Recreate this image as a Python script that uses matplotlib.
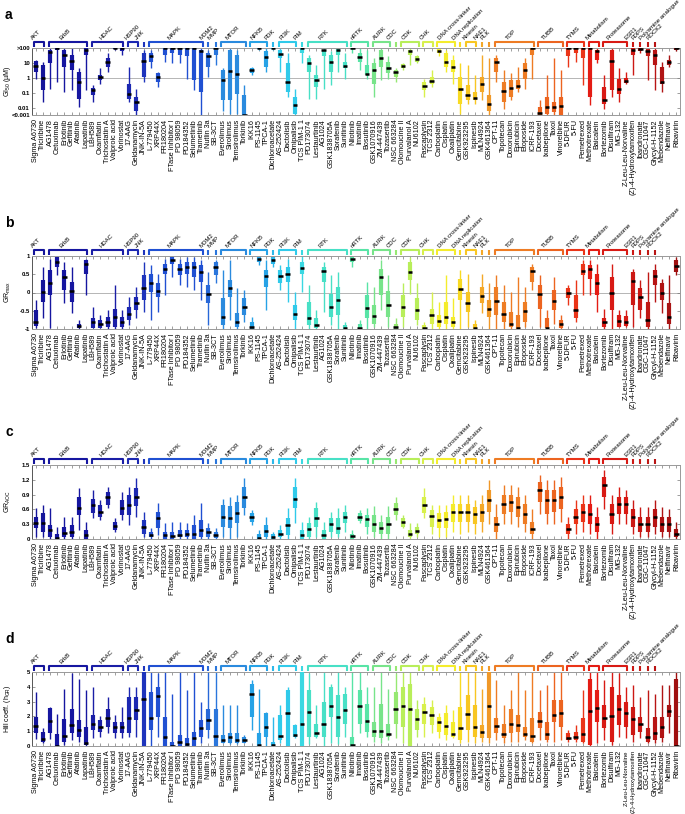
import matplotlib
matplotlib.use("Agg")
import matplotlib.pyplot as plt
from matplotlib.path import Path
from matplotlib.patches import PathPatch
from matplotlib.transforms import blended_transform_factory
import numpy as np

plt.rcParams['font.family'] = ['Liberation Sans', 'DejaVu Sans']
plt.rcParams['mathtext.default'] = 'regular'

drugs = ["Sigma A6730", "Triciribine", "AG1478", "Cetuximab", "Erlotinib", "Gefitinib", "Afatinib", "Lapatinib",
         "LBH589", "Oxamflatin", "Trichostatin A", "Valproic acid", "Vorinostat", "17-AAG", "Geldanamycin",
         "JNK-IN-5A", "L-779450", "XRP44X", "FR180204", "FTase Inhibitor I", "PD 98059", "PD184352",
         "Selumetinib", "Trametinib", "Nutlin 3a", "SB-3CT", "Everolimus", "Sirolimus", "Temsirolimus",
         "Torkinib", "IKK16", "PS-1145", "TPCA-1", "Dichloroacetate", "AS-252424", "Dactolisib", "Omipalisib",
         "TCS PIM-1 1", "PD173074", "Lestaurtinib", "AG1024", "GSK1838705A", "Sorafenib", "Sunitinib",
         "Nilotinib", "Imatinib", "Bosutinib", "GSK1070916", "ZM-447439", "Tozasertib", "NSC 663284",
         "Olomoucine II", "Purvalanol A", "NU6102", "Fascaplysin", "TCS 2312", "Carboplatin", "Cisplatin",
         "Oxaliplatin", "Gemcitabine", "GSK923295", "Ispinesib", "MLN4924", "GSK461364", "CPT-11", "Topotecan",
         "Doxorubicin", "Epirubicin", "Etoposide", "ICRF-193", "Docetaxel", "Ixabepilone", "Taxol",
         "Vinorelbine", "5-DFUR", "5-FU", "Pemetrexed", "Methotrexate", "Baicalein", "Bortezomib",
         "Disulfiram", "MG-132", "Z-Leu-Leu-Norvaline", "(Z)-4-Hydroxytamoxifen", "Ibandronate", "CGC-11047",
         "Glycyl-H-1152", "Mebendazole", "Nelfinavir", "Ribavirin"]

group_names = ["AKT", "ErbB", "HDAC", "HSP90", "JNK", "MAPK", "MDM2", "MMP", "MTOR", "NFKB", "PDK", "PI3K",
               "PIM", "RTK", "nRTK", "AURK", "CDC", "CDK", "CHK", "DNA cross-linker", "DNA replication",
               "Kinesin", "NAE1", "PLK", "TOP", "TUBB", "TYMS", "Metabolism", "Proteasome", "ESR1", "FDPS",
               "Polyamine analogue", "ROCK2", "", "", ""]
group_sizes = [2, 6, 5, 2, 1, 8, 1, 1, 4, 3, 1, 3, 1, 6, 3, 3, 1, 3, 2, 3, 1, 2, 1, 1, 6, 4, 3, 2, 4, 1, 1, 1, 1, 1, 1, 1]
group_colors = ["#14149a", "#1616a0", "#1a1ea6", "#1c28b2", "#1e34bc", "#2050d2", "#2868d8", "#2a76dc",
                "#2a8ade", "#26a2e6", "#2cb8ea", "#30caea", "#3ad8e2", "#48e0c6", "#58e4a6", "#78e48a",
                "#96e872", "#b8ee5a", "#d8f04c", "#f4ec2c", "#f8da22", "#f8c622", "#f4a828", "#f09828",
                "#ee7c24", "#ec6420", "#ea3418", "#e41c14", "#d81a14", "#cc1814", "#c81814", "#c01814",
                "#b81414", "#b01414", "#a81414", "#a01010"]

# ---- panel a: log10 GI50 (uM) ----
gi50_lo = [-0.05, -1.64, -0.73, -0.27, -0.95, -0.84, -1.98, -0.84, -1.64, -0.39, 0.41, 1.89, 1.55, -1.64, -2.5,
           -0.27, 0.64, -0.61, 1.09, 0.98, 0.98, -0.05, -0.84, -2.5, 0.07, 0.86, -2.2, -2.43, -2.43, -2.5,
           0.18, 1.89, 0.41, 1.89, 0.41, -1.3, -2.5, 0.98, -1.41, -1.41, -0.73, -0.5, 0.41, -0.05, 1.66, 0.52,
           -0.05, -1.3, -0.16, -0.05, -0.27, 0.52, 0.86, 0.98, -1.3, -0.61, 1.43, 0.41, -0.39, -2.43, -1.75,
           -1.75, -1.52, -2.5, -0.27, -2.09, -1.52, -0.95, -0.73, -0.05, -2.5, -2.5, -2.5, -2.5, 0.75, 1.09,
           -0.5, -1.86, 0.98, -2.09, -1.3, -1.64, -0.39, 0.18, 1.66, -0.16, -0.84, -0.95, 0.75, 1.77]
gi50_q1 = [0.41, -0.84, 0.98, 1.89, 0.75, 0.52, -1.41, 1.55, -1.18, -0.16, 0.75, 1.95, 1.77, -1.41, -2.2,
           0.07, 1.09, -0.27, 1.55, 1.66, 1.55, 1.43, -0.16, -0.95, 0.75, 1.55, -1.52, -1.52, -1.07, -2.5,
           0.3, 1.95, 0.75, 1.95, 1.32, -0.95, -2.43, 1.66, 0.41, -0.61, 1.43, 0.41, 1.55, 0.64, 1.9, 1.09,
           0.18, -0.39, 0.75, 0.3, 0.02, 0.64, 1.55, 1.09, -0.84, -0.39, 1.66, 0.75, 0.41, -1.75, -1.52,
           -1.52, -0.95, -2.2, 0.41, -1.64, -1.3, -0.73, -0.05, 1.55, -2.5, -2.43, -2.32, -2.5, 1.43, 1.66,
           1.32, -1.3, 1.2, -1.75, -0.84, -1.07, -0.32, 1.55, 1.77, 1.43, 0.86, -0.39, 0.86, 1.89]
gi50_med = [0.82, 0.0, 1.73, 2.0, 1.55, 1.14, -0.27, 1.89, -0.84, 0.02, 1.09, 2.0, 2.0, -1.11, -1.64,
            1.16, 1.48, 0.07, 2.0, 2.0, 2.0, 2.0, 2.0, 1.77, 1.43, 2.0, -0.16, 0.45, 0.25, -2.5,
            0.5, 2.0, 1.39, 2.0, 1.59, -0.27, -1.82, 2.0, 0.98, -0.16, 1.84, 1.05, 1.84, 0.82, 2.0, 1.39,
            0.27, 0.52, 1.32, 0.68, 0.36, 0.8, 1.77, 1.27, -0.57, -0.2, 1.77, 1.09, 0.75, -0.73, -1.18,
            -1.34, -0.45, -1.75, 1.07, -0.89, -0.66, -0.52, 0.5, 2.0, -2.36, -1.98, -1.98, -1.91, 2.0, 2.0,
            2.0, 2.0, 1.77, -1.48, 1.14, -0.73, -0.2, 1.84, 1.93, 1.77, 1.55, -0.27, 1.07, 2.0]
gi50_q3 = [1.14, 0.86, 1.89, 2.0, 1.89, 1.55, 0.41, 2.0, -0.66, 0.18, 1.32, 2.0, 2.0, -0.39, -1.3,
           1.66, 1.66, 0.3, 2.0, 2.0, 2.0, 2.0, 2.0, 1.89, 1.66, 2.0, 0.52, 1.89, 1.55, -1.18,
           0.64, 2.0, 1.77, 2.0, 1.89, 0.98, -1.3, 2.0, 1.32, 0.18, 1.89, 1.55, 1.93, 1.09, 2.0, 1.66,
           0.86, 0.98, 1.89, 1.09, 0.52, 0.91, 1.89, 1.43, -0.27, 0.07, 1.93, 1.66, 1.2, 0.07, -0.5,
           -0.95, 0.07, -1.18, 1.32, -0.27, -0.16, -0.16, 0.98, 2.0, -1.98, -1.3, -1.64, -1.3, 2.0, 2.0,
           2.0, 2.0, 1.89, -0.61, 1.89, -0.05, 0.0, 2.0, 2.0, 1.93, 1.89, 0.75, 1.2, 2.0]
gi50_hi = [1.2, 1.09, 2.0, 2.0, 2.0, 2.0, 0.64, 2.0, -0.5, 0.64, 1.66, 2.0, 2.0, 0.75, -0.73,
           1.89, 1.89, 0.41, 2.0, 2.0, 2.0, 2.0, 2.0, 2.0, 1.89, 2.0, 0.64, 2.0, 1.89, -0.5,
           0.75, 2.0, 2.0, 2.0, 2.0, 1.66, -0.73, 2.0, 1.55, 0.86, 2.0, 1.77, 2.0, 1.66, 2.0, 2.0,
           1.89, 1.32, 2.0, 1.43, 0.64, 0.98, 2.0, 1.55, -0.05, 0.52, 2.0, 1.89, 1.55, 0.98, 0.86,
           0.18, 1.55, 1.32, 1.55, 0.52, 0.3, 0.75, 1.32, 2.0, -1.52, 0.18, 1.32, 0.52, 2.0, 2.0,
           2.0, 2.0, 2.0, 0.18, 2.0, 0.64, 0.41, 2.0, 2.0, 2.0, 2.0, 1.09, 1.55, 2.0]

# ---- panel b: GRmax ----
grmax_lo = [-0.98, -0.71, -0.98, 0.47, -0.3, -0.57, -1.0, -0.07, -0.98, -0.98, -1.0, -1.0, -1.0, -0.89, -0.71,
            -0.53, -0.75, -0.53, -0.07, 0.43, 0.2, 0.15, 0.06, -0.21, -0.89, 0.25, -1.0, -0.75, -1.0, -0.8,
            -1.0, 0.75, -0.48, 0.7, 0.06, -0.25, -1.0, 0.02, -1.0, -1.0, -0.53, -0.89, -1.0, -1.0, 0.7, -1.0,
            -1.0, -0.94, -0.48, -0.94, -1.0, -0.94, -0.03, -0.89, -1.0, -1.0, -1.0, -1.0, -1.0, -1.0, -0.94,
            -1.0, -0.57, -1.0, -1.0, -1.0, -1.0, -1.0, -0.94, 0.06, -0.94, -1.0, -0.85, -1.0, -0.35, -0.8,
            -0.07, -0.07, -0.53, -1.0, -1.0, -0.94, -0.94, -0.94, -0.71, -1.0, -0.25, -0.57, -1.0, 0.47]
grmax_q1 = [-0.91, -0.25, -0.07, 0.7, 0.06, -0.25, -0.98, 0.52, -0.96, -0.96, -0.94, -0.94, -0.94, -0.75, -0.48,
            -0.21, 0.02, -0.12, 0.52, 0.79, 0.47, 0.52, 0.43, 0.29, -0.3, 0.47, -0.89, -0.12, -0.94, -0.62,
            -1.0, 0.84, 0.15, 0.79, 0.25, 0.29, -0.75, 0.52, -0.89, -0.96, 0.29, -0.66, -0.62, -1.0, 0.84, -1.0,
            -0.71, -0.85, -0.07, -0.66, -1.0, -0.66, 0.34, -0.75, -1.0, -0.85, -0.94, -0.85, -0.94, -0.21, -0.53,
            -1.0, -0.3, -0.66, -0.62, -0.8, -0.94, -1.0, -0.8, 0.29, -0.44, -0.96, -0.48, -0.96, -0.16, -0.71,
            0.47, 0.38, -0.07, -0.94, -0.48, -0.94, -0.92, -0.35, -0.48, -0.94, 0.2, -0.21, -0.85, 0.56]
grmax_med = [-0.82, 0.02, 0.27, 0.84, 0.43, 0.05, -0.92, 0.79, -0.82, -0.87, -0.82, -0.68, -0.82, -0.59, -0.3,
             0.13, 0.27, 0.05, 0.64, 0.9, 0.64, 0.7, 0.7, 0.56, -0.05, 0.7, -0.68, 0.11, -0.82, -0.39,
             -0.94, 0.93, 0.45, 0.9, 0.45, 0.5, -0.59, 0.68, -0.69, -0.89, 0.58, -0.39, -0.21, -0.96, 0.93, -0.96,
             -0.42, -0.65, 0.43, -0.35, -0.94, -0.39, 0.55, -0.49, -0.97, -0.62, -0.78, -0.66, -0.82, 0.09, -0.28,
             -0.96, -0.09, -0.44, -0.23, -0.59, -0.86, -0.96, -0.5, 0.58, -0.05, -0.96, -0.23, -0.87, -0.01, -0.48,
             0.58, 0.65, 0.27, -0.82, 0.0, -0.78, -0.8, 0.31, -0.12, -0.75, 0.45, 0.0, -0.66, 0.73]
grmax_q3 = [-0.48, 0.34, 0.61, 0.97, 0.61, 0.29, -0.85, 0.88, -0.69, -0.75, -0.66, -0.44, -0.66, -0.39, -0.12,
            0.47, 0.52, 0.25, 0.79, 0.97, 0.79, 0.84, 0.84, 0.75, 0.2, 0.84, -0.16, 0.34, -0.57, -0.16,
            -0.8, 0.97, 0.61, 0.97, 0.61, 0.7, -0.34, 0.84, -0.25, -0.71, 0.7, -0.03, 0.15, -0.89, 0.97, -0.85,
            -0.07, -0.35, 0.65, 0.05, -0.85, -0.07, 0.84, -0.16, -0.9, -0.44, -0.62, -0.25, -0.66, 0.38, 0.02,
            -0.85, 0.15, -0.21, 0.15, -0.25, -0.53, -0.62, -0.25, 0.7, 0.2, -0.71, 0.06, -0.75, 0.11, -0.07,
            0.79, 0.75, 0.52, -0.71, 0.43, -0.62, -0.65, 0.56, 0.11, -0.25, 0.61, 0.25, -0.3, 0.88]
grmax_hi = [-0.21, 0.7, 0.93, 1.0, 0.84, 0.7, -0.75, 0.93, -0.39, -0.62, -0.48, 0.2, -0.48, -0.12, 0.15,
            0.84, 0.75, 0.52, 0.93, 1.0, 0.93, 0.97, 0.97, 0.88, 0.56, 0.88, 0.61, 0.88, 0.11, 0.06,
            -0.66, 1.0, 0.88, 1.0, 0.75, 0.93, 0.02, 1.0, 0.2, -0.48, 0.84, 0.47, 0.56, -0.8, 1.0, -0.75,
            0.29, 0.15, 0.88, 0.47, -0.71, 0.25, 0.97, 0.25, -0.8, 0.02, -0.25, 0.47, -0.16, 0.61, 0.52,
            -0.75, 0.52, 0.25, 0.47, 0.2, 0.02, 0.43, 0.15, 0.79, 0.47, -0.48, 0.43, -0.62, 0.2, 0.34,
            0.88, 0.88, 0.79, -0.44, 0.79, -0.48, -0.48, 0.65, 0.34, 0.56, 0.79, 0.38, 0.47, 0.97]

# ---- panel c: GR AOC ----
aoc_lo = [0.05, 0.05, 0.0, 0.0, 0.0, 0.0, 0.18, 0.0, 0.42, 0.39, 0.62, 0.15, 0.39, 0.28, 0.45,
          0.05, 0.01, 0.08, 0.0, 0.0, 0.01, 0.0, 0.0, 0.0, 0.01, 0.01, 0.05, 0.01, 0.05, 0.49,
          0.28, 0.0, 0.0, 0.0, 0.01, 0.0, 0.32, 0.0, 0.0, 0.05, 0.0, 0.05, 0.05, 0.15, 0.0, 0.32,
          0.11, 0.05, 0.01, 0.01, 0.39, 0.22, 0.01, 0.05, 0.42, 0.11, 0.05, 0.05,
          0.15, 0.1, 0.15, 0.1, 0.15, 0.3, 0.0, 0.3, 0.3, 0.25, 0.15, 0.0, 0.5, 0.3, 0.3, 0.35,
          0.0, 0.1, 0.15, 0.1, 0.0, 0.6, 0.1, 0.3, 0.3, 0.1, 0.05, 0.05, 0.1, 0.05, 0.05, 0.0]
aoc_q1 = [0.22, 0.15, 0.05, 0.0, 0.05, 0.05, 0.49, 0.0, 0.52, 0.45, 0.69, 0.18, 0.49, 0.49, 0.66,
          0.11, 0.05, 0.22, 0.01, 0.0, 0.05, 0.05, 0.01, 0.05, 0.05, 0.03, 0.25, 0.22, 0.32, 0.62,
          0.35, 0.0, 0.05, 0.0, 0.05, 0.08, 0.62, 0.01, 0.05, 0.25, 0.01, 0.15, 0.11, 0.32, 0.01, 0.37,
          0.25, 0.15, 0.11, 0.11, 0.49, 0.25, 0.05, 0.11, 0.52, 0.25, 0.22, 0.22,
          0.35, 0.35, 0.35, 0.3, 0.35, 0.55, 0.15, 0.5, 0.55, 0.45, 0.3, 0.1, 0.75, 0.5, 0.55, 0.6,
          0.1, 0.3, 0.35, 0.3, 0.15, 0.85, 0.3, 0.5, 0.5, 0.25, 0.15, 0.15, 0.25, 0.15, 0.15, 0.05]
aoc_med = [0.32, 0.33, 0.18, 0.03, 0.13, 0.15, 0.62, 0.08, 0.69, 0.55, 0.86, 0.27, 0.62, 0.69, 0.86,
           0.25, 0.09, 0.42, 0.08, 0.07, 0.09, 0.1, 0.1, 0.18, 0.15, 0.08, 0.45, 0.43, 0.52, 0.86,
           0.44, 0.03, 0.17, 0.05, 0.11, 0.28, 0.82, 0.08, 0.2, 0.43, 0.08, 0.3, 0.23, 0.45, 0.06, 0.45,
           0.4, 0.3, 0.22, 0.3, 0.6, 0.34, 0.1, 0.17, 0.69, 0.47, 0.39, 0.4,
           0.55, 0.55, 0.55, 0.5, 0.55, 0.8, 0.3, 0.7, 0.75, 0.65, 0.5, 0.2, 1.0, 0.8, 0.8, 0.85,
           0.2, 0.45, 0.55, 0.5, 0.3, 1.1, 0.5, 0.7, 0.7, 0.45, 0.3, 0.3, 0.45, 0.3, 0.3, 0.1]
aoc_q3 = [0.45, 0.52, 0.28, 0.11, 0.25, 0.28, 0.86, 0.18, 0.82, 0.69, 0.96, 0.35, 0.79, 0.89, 1.03,
          0.39, 0.15, 0.55, 0.15, 0.15, 0.18, 0.18, 0.28, 0.39, 0.22, 0.15, 0.69, 0.66, 0.76, 1.06,
          0.52, 0.1, 0.28, 0.1, 0.18, 0.42, 1.06, 0.18, 0.32, 0.62, 0.18, 0.42, 0.42, 0.55, 0.11, 0.52,
          0.49, 0.49, 0.35, 0.45, 0.72, 0.42, 0.18, 0.25, 0.86, 0.59, 0.52, 0.55,
          0.7, 0.7, 0.7, 0.65, 0.7, 1.0, 0.45, 0.9, 0.9, 0.85, 0.7, 0.35, 1.15, 1.0, 1.0, 1.05,
          0.3, 0.6, 0.7, 0.7, 0.45, 1.25, 0.7, 0.85, 0.85, 0.6, 0.45, 0.45, 0.6, 0.45, 0.45, 0.2]
aoc_hi = [0.62, 0.69, 0.62, 0.25, 0.45, 0.45, 1.03, 0.35, 0.99, 0.79, 1.06, 0.42, 0.96, 1.06, 1.23,
          0.55, 0.22, 0.72, 0.32, 0.35, 0.35, 0.32, 0.49, 0.72, 0.32, 0.22, 0.82, 0.86, 0.89, 1.23,
          0.59, 0.18, 0.45, 0.15, 0.28, 0.62, 1.23, 0.35, 0.45, 0.76, 0.35, 0.55, 0.62, 0.69, 0.18, 0.59,
          0.62, 0.66, 0.49, 0.66, 0.86, 0.49, 0.32, 0.32, 1.03, 0.69, 0.69, 0.69,
          0.9, 0.9, 0.9, 0.8, 0.9, 1.2, 0.7, 1.1, 1.1, 1.05, 0.9, 0.6, 1.3, 1.2, 1.2, 1.25,
          0.45, 0.8, 0.9, 0.9, 0.65, 1.4, 0.9, 1.05, 1.0, 0.8, 0.65, 0.65, 0.8, 0.65, 0.6, 0.35]

# ---- panel d: Hill coefficient ----
hill_lo = [0.5, 0.18, 0.5, 0.0, 0.07, 0.4, 0.3, 0.0, 0.52, 0.63, 0.85, 0.52, 0.52, 0.63, 0.63,
           0.0, 0.0, 0.63, 0.0, 0.0, 0.0, 0.0, 0.0, 0.18, 0.52, 0.0, 0.18, 0.13, 0.13, 0.18,
           1.08, 0.0, 0.0, 0.0, 0.22, 0.0, 0.52, 0.0, 0.13, 0.52, 0.0, 0.18, 0.13, 0.63, 0.0, 0.85,
           0.63, 0.29, 0.18, 0.4, 0.52, 0.18, 0.0, 0.63, 0.63, 0.85, 0.52, 0.4,
           0.52, 0.18, 0.29, 0.18, 0.29, 0.18, 0.4, 0.18, 0.29, 0.29, 0.4, 0.18, 0.4, 0.29, 0.29, 0.4,
           0.29, 0.29, 0.18, 0.0, 0.18, 0.4, 0.07, 0.63, 0.52, 0.29, 0.52, 0.18, 0.18, 0.29, 0.85, 0.0]
hill_q1 = [0.85, 0.3, 0.9, 0.0, 0.3, 0.85, 0.63, 0.07, 1.08, 0.96, 1.3, 0.85, 0.85, 0.9, 1.75,
           0.0, 1.08, 1.97, 0.0, 0.0, 0.0, 0.0, 0.0, 0.63, 1.08, 0.0, 0.18, 0.18, 0.18, 0.22,
           1.97, 0.0, 0.63, 0.0, 0.4, 0.0, 0.63, 0.0, 0.63, 0.63, 0.63, 1.97, 0.63, 1.52, 0.0, 1.52,
           0.96, 0.63, 0.52, 0.63, 1.52, 1.3, 0.0, 1.08, 1.52, 1.41, 0.96, 0.74,
           0.63, 0.4, 1.08, 0.63, 0.52, 0.52, 0.85, 0.52, 0.85, 0.96, 0.63, 0.29, 1.19, 0.4, 1.64, 1.3,
           0.4, 0.4, 0.29, 0.07, 1.64, 1.19, 0.29, 1.41, 1.3, 0.74, 0.96, 0.29, 0.4, 0.52, 1.97, 0.0]
hill_med = [1.35, 0.5, 1.7, 0.0, 0.7, 1.41, 1.08, 0.22, 1.52, 1.26, 1.86, 1.3, 1.3, 1.86, 2.42,
            3.2, 1.86, 3.36, 0.63, 0.0, 0.29, 0.13, 0.52, 1.19, 1.75, 0.7, 0.4, 0.58, 0.4, 0.4,
            3.48, 0.07, 1.26, 0.07, 0.7, 2.24, 0.76, 1.52, 2.29, 0.85, 1.46, 2.69, 1.97, 2.42, 0.07, 2.71,
            1.68, 1.01, 1.03, 0.81, 2.53, 2.69, 2.51, 1.82, 2.31, 2.09, 1.64, 1.35,
            0.78, 1.23, 2.15, 1.3, 0.94, 2.71, 1.35, 0.81, 1.48, 1.41, 0.78, 0.7, 1.68, 0.78, 2.09, 2.26,
            0.52, 0.63, 0.78, 2.38, 2.6, 1.86, 2.02, 2.47, 2.2, 1.84, 1.48, 0.58, 0.9, 1.26, 2.38, 0.02]
hill_q3 = [1.97, 0.96, 2.6, 0.8, 1.85, 2.53, 1.75, 1.3, 2.08, 1.75, 2.53, 1.64, 1.64, 3.32, 3.32,
           5.0, 3.65, 3.99, 1.97, 0.29, 0.74, 0.52, 0.96, 1.75, 2.53, 2.53, 0.74, 0.85, 0.85, 0.63,
           4.22, 0.85, 2.24, 0.3, 2.08, 3.77, 1.41, 5.0, 3.77, 1.52, 2.98, 3.99, 3.43, 3.54, 0.63, 3.77,
           2.87, 1.64, 2.87, 1.52, 3.65, 3.99, 4.22, 2.53, 2.87, 2.65, 1.97, 2.2,
           1.64, 2.65, 3.43, 2.76, 1.41, 5.0, 1.86, 1.52, 2.53, 2.09, 1.3, 1.86, 2.31, 1.64, 3.09, 3.09,
           0.85, 0.96, 1.86, 4.55, 3.77, 2.76, 3.99, 3.43, 2.98, 2.65, 1.97, 1.19, 1.97, 1.97, 2.76, 4.5]
hill_hi = [3.65, 1.19, 2.65, 2.15, 3.88, 4.9, 4.55, 3.77, 3.99, 2.02, 3.32, 2.09, 2.65, 3.99, 3.99,
           5.0, 5.0, 4.9, 5.0, 3.54, 5.0, 3.77, 5.0, 2.98, 5.0, 5.0, 2.76, 2.76, 2.76, 0.74,
           4.44, 3.88, 2.31, 1.97, 2.76, 3.99, 1.52, 5.0, 4.9, 2.76, 5.0, 4.22, 5.0, 3.99, 5.0, 5.0,
           3.99, 3.99, 5.0, 3.88, 4.9, 5.0, 5.0, 3.09, 3.32, 3.09, 2.2, 2.76,
           2.42, 5.0, 5.0, 5.0, 3.88, 5.0, 4.44, 2.76, 3.77, 5.0, 3.77, 5.0, 3.77, 4.1, 5.0, 5.0,
           1.08, 1.41, 3.77, 5.0, 5.0, 4.44, 5.0, 4.9, 3.99, 4.1, 3.32, 3.77, 3.54, 4.1, 4.1, 5.0]

panels = [
    dict(letter="a", lo=gi50_lo, q1=gi50_q1, med=gi50_med, q3=gi50_q3, hi=gi50_hi,
         ylim=(-2.5, 2.0), yticks=[-2.5, -2, -1, 0, 1, 2],
         yticklabels=["<0.001", "0.01", "0.1", "1", "10", ">100"], ylabel="GI$_{50}$ (µM)", ref=0.0,
         top=48, bottom=115),
    dict(letter="b", lo=grmax_lo, q1=grmax_q1, med=grmax_med, q3=grmax_q3, hi=grmax_hi,
         ylim=(-1, 1), yticks=[-1, -0.5, 0, 0.5, 1],
         yticklabels=["-1", "-0.5", "0", "0.5", "1"], ylabel="GR$_{max}$", ref=0.0,
         top=256, bottom=329),
    dict(letter="c", lo=aoc_lo, q1=aoc_q1, med=aoc_med, q3=aoc_q3, hi=aoc_hi,
         ylim=(0, 1.5), yticks=[0, 0.3, 0.6, 0.9, 1.2, 1.5],
         yticklabels=["0", "0.3", "0.6", "0.9", "1.2", "1.5"], ylabel="GR$_{AOC}$", ref=None,
         top=465, bottom=539),
    dict(letter="d", lo=hill_lo, q1=hill_q1, med=hill_med, q3=hill_q3, hi=hill_hi,
         ylim=(0, 5), yticks=[0, 1, 2, 3, 4, 5],
         yticklabels=["0", "1", "2", "3", "4", "5"], ylabel="Hill coeff. (h$_{GR}$)", ref=None,
         top=672, bottom=746),
]

W, H = 685, 814
fig = plt.figure(figsize=(W / 100, H / 100), dpi=100)

n = len(drugs)
x = np.arange(n)
colors = []
group_start = []
s = 0
for gname, gs, gc in zip(group_names, group_sizes, group_colors):
    group_start.append(s)
    colors += [gc] * gs
    s += gs

left_px, right_px = 32, 680
frame_col = "#555555"
for p in panels:
    ax = fig.add_axes([left_px / W, 1 - p["bottom"] / H, (right_px - left_px) / W, (p["bottom"] - p["top"]) / H])
    ax.set_xlim(-0.5, n - 0.5)
    ax.set_ylim(*p["ylim"])
    if p["ref"] is not None:
        ax.axhline(p["ref"], color="#aaaaaa", lw=0.6, zorder=0)
    ax.vlines(x, p["lo"], p["hi"], colors=colors, lw=1.0, zorder=2)
    ax.vlines(x, p["q1"], p["q3"], colors=colors, lw=3.0, zorder=3)
    ax.hlines(p["med"], x - 0.3, x + 0.3, colors="black", lw=1.8, zorder=4)
    for name, sp in ax.spines.items():
        sp.set_color(frame_col if name == "left" else "#999999")
        sp.set_linewidth(0.7)
    ax.set_xticks(x)
    ax.set_xticklabels(drugs, rotation=90, fontsize=5.2)
    ax.tick_params(axis="x", direction="in", top=True, length=2.0, width=0.5, color="#777777", pad=3)
    if p["letter"] == "d":
        # keep the longest names inside the figure at the bottom
        for lab in ax.get_xticklabels():
            if len(lab.get_text()) > 18:
                lab.set_fontsize(4.3)
    ax.set_yticks(p["yticks"])
    ax.set_yticklabels(p["yticklabels"], fontsize=4.3, fontweight="bold")
    ax.tick_params(axis="y", direction="in", right=True, length=2.0, width=0.5, color="#777777", pad=1.5)
    ax.set_ylabel(p["ylabel"], fontsize=5)
    ax.yaxis.set_label_coords((13 - left_px) / (right_px - left_px), 0.5)

    # group brackets
    ax_h_px = p["bottom"] - p["top"]
    y_low = 1 + 1.0 / ax_h_px
    y_top = 1 + 6.0 / ax_h_px
    tr = blended_transform_factory(ax.transData, ax.transAxes)
    for gname, gs, gc, st in zip(group_names, group_sizes, group_colors, group_start):
        if gname == "":
            continue
        x0, x1 = st - 0.2, st + gs - 1 + 0.2
        if gs == 1:
            verts = [(st, y_low), (st, y_top)]
            codes = [Path.MOVETO, Path.LINETO]
        else:
            verts = [(x0, y_low), (x0, y_top), (x1, y_top), (x1, y_low)]
            codes = [Path.MOVETO, Path.LINETO, Path.LINETO, Path.LINETO]
        patch = PathPatch(Path(verts, codes), transform=tr, fill=False, edgecolor=gc, lw=1.5,
                          joinstyle="round", capstyle="butt", clip_on=False)
        ax.add_patch(patch)
        cx = st + (gs - 1) / 2.0 - 0.8
        ax.text(cx, y_top + 1.0 / ax_h_px, gname, transform=tr, rotation=45, ha="left", va="bottom",
                rotation_mode="anchor", fontsize=4.3, clip_on=False)

    fig.text(5 / W, 1 - (p["top"] - 40) / H, p["letter"], fontsize=10, fontweight="bold", va="top", ha="left")

fig.savefig("out.png", dpi=100)
